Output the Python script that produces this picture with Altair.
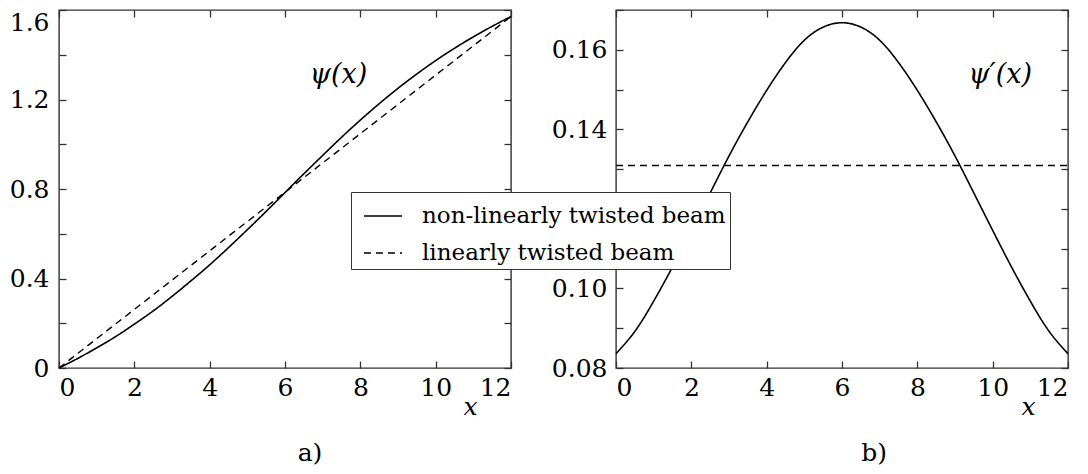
import altair as alt
import pandas as pd

SERIES = ["non-linearly twisted beam", "linearly twisted beam"]

x_vals = [0, 0.5, 1, 1.5, 2, 2.5, 3, 3.5, 4, 4.5, 5, 5.5, 6,
          6.5, 7, 7.5, 8, 8.5, 9, 9.5, 10, 10.5, 11, 11.5, 12]
psi_nonlin = [0.000, 0.043, 0.090, 0.140, 0.196, 0.255, 0.320, 0.389, 0.461,
              0.538, 0.618, 0.700, 0.784, 0.868, 0.950, 1.031, 1.108, 1.181,
              1.250, 1.314, 1.374, 1.429, 1.480, 1.527, 1.571]
dpsi_nonlin = [0.0836, 0.0892, 0.0968, 0.1054, 0.1146, 0.1240, 0.1333, 0.1419,
               0.1498, 0.1568, 0.1624, 0.1657, 0.1668, 0.1657, 0.1624, 0.1568,
               0.1498, 0.1419, 0.1333, 0.1240, 0.1146, 0.1054, 0.0968, 0.0892,
               0.0836]
x_lin = [0, 12]
psi_lin = [0.0, 1.5708]
dpsi_lin = [0.1309, 0.1309]

x_ticks = [0, 2, 4, 6, 8, 10, 12]
psi_ticks = [0, 0.2, 0.4, 0.6, 0.8, 1.0, 1.2, 1.4, 1.6]
dpsi_ticks = [0.08, 0.09, 0.10, 0.11, 0.12, 0.13, 0.14, 0.15, 0.16, 0.17]

FONT = "DejaVu Serif"
FS = 25


def make_df(xs, ys, name):
    return pd.DataFrame({"x": xs, "y": ys, "series": name})


def panel(solid_df, dash_df, ydomain, yticks, ylabel_expr, top_test, ann_df,
          caption, title_x, ylab_pad, cap_dx):
    xs = alt.Scale(domain=[0, 12], nice=False, zero=False)
    ys = alt.Scale(domain=ydomain, nice=False, zero=False)
    dash = alt.StrokeDash(
        "series:N",
        scale=alt.Scale(domain=SERIES, range=[[1, 0], [7, 5]]),
        legend=alt.Legend(
            title=None, orient="none", legendX=292, legendY=182,
            direction="vertical", fillColor="white", strokeColor="#333",
            padding=4, labelFont=FONT, labelFontSize=23, labelColor="black",
            symbolType="stroke", symbolSize=1444, symbolStrokeWidth=1.5,
            symbolStrokeColor="black", labelOffset=19, labelLimit=0,
            rowPadding=5, symbolOffset=8,
        ),
    )
    bottom = alt.Axis(
        orient="bottom", values=x_ticks, format="d", tickSize=7, offset=-7,
        domain=False, grid=False, labelPadding=7, title="x",
        titleFont=FONT, titleFontSize=FS, titleFontStyle="italic",
        titleFontWeight="normal", titleX=title_x, titleY=45,
        titleAlign="center", titleBaseline="middle", titleColor="black",
    )
    left = alt.Axis(
        orient="left", values=yticks, labelExpr=ylabel_expr, tickSize=7,
        offset=-7, domain=False, grid=False, labelPadding=ylab_pad, title=None,
        labelBaseline={"condition": {"test": top_test, "value": "top"},
                       "value": "middle"},
    )
    top = alt.Axis(orient="top", values=x_ticks, labels=False, tickSize=7,
                   offset=-7, domain=False, grid=False, title=None)
    right = alt.Axis(orient="right", values=yticks, labels=False, tickSize=7,
                     offset=-7, domain=False, grid=False, title=None)

    solid = alt.Chart(solid_df).mark_line(
        color="black", strokeWidth=1.6, interpolate="natural"
    ).encode(
        x=alt.X("x:Q", scale=xs, axis=bottom),
        y=alt.Y("y:Q", scale=ys, axis=left),
        strokeDash=dash,
    )
    dashed = alt.Chart(dash_df).mark_line(
        color="black", strokeWidth=1.4
    ).encode(
        x=alt.X("x:Q", scale=xs, axis=top),
        y=alt.Y("y:Q", scale=ys, axis=right),
        strokeDash=dash,
    )
    ann = alt.Chart(ann_df).mark_text(
        font=FONT, fontSize=27, fontStyle="italic", color="black"
    ).encode(
        x=alt.X("x:Q", scale=xs, axis=None),
        y=alt.Y("y:Q", scale=ys, axis=None),
        text="label:N",
    )
    return alt.layer(solid, dashed, ann).resolve_axis(
        x="independent", y="independent"
    ).properties(
        width=452, height=358,
        title=alt.TitleParams(caption, orient="bottom", font=FONT, fontSize=FS,
                              fontWeight="normal", color="black", offset=22,
                              dx=cap_dx),
    )


psi_expr = ("round(datum.value*10) % 4 == 0 ? "
            "(datum.value == 0 ? '0' : format(datum.value, '.1f')) : ''")
dpsi_expr = ("round(datum.value*100) % 2 == 0 && round(datum.value*100) != 12"
             " ? format(datum.value, '.2f') : ''")

left_chart = panel(
    make_df(x_vals, psi_nonlin, SERIES[0]),
    make_df(x_lin, psi_lin, SERIES[1]),
    [0, 1.6], psi_ticks, psi_expr, "datum.value >= 1.59",
    pd.DataFrame({"x": [7.42], "y": [1.31], "label": ["ψ(x)"]}),
    "a)", 411, 10, 25,
)
right_chart = panel(
    make_df(x_vals, dpsi_nonlin, SERIES[0]),
    make_df(x_lin, dpsi_lin, SERIES[1]),
    [0.08, 0.17], dpsi_ticks, dpsi_expr, "datum.value >= 0.169",
    pd.DataFrame({"x": [10.2], "y": [0.1536], "label": ["ψ′(x)"]}),
    "b)", 412, 9, 32,
)

chart = alt.hconcat(left_chart, right_chart, spacing=105, bounds="flush").properties(
    padding={"left": 0, "top": 0, "right": 0, "bottom": 0}
).configure_view(
    stroke="#333", strokeWidth=1.4
).configure_axis(
    tickColor="#333", tickWidth=1.3, labelFont=FONT, labelFontSize=FS,
    labelColor="black",
)

chart.save("out.html", embed_options={"renderer": "svg", "actions": False})
